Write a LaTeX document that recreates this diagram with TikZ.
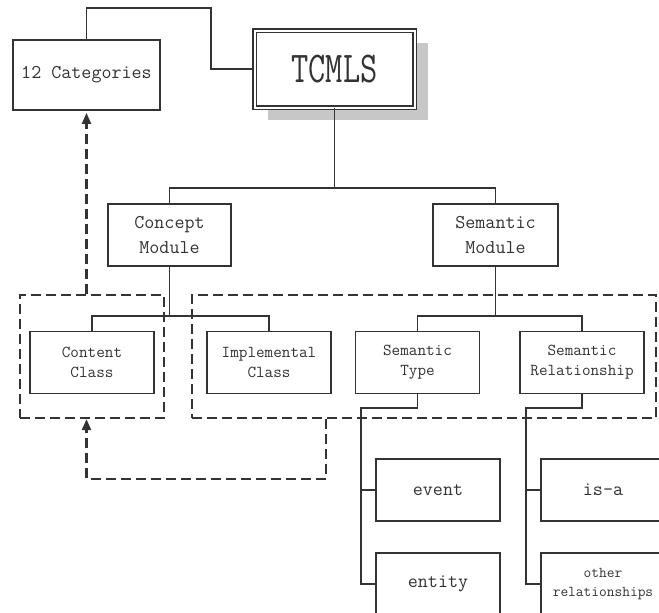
\documentclass[tikz,border=0pt]{standalone}
\usepackage{fontspec}
\usepackage{graphicx}
\usetikzlibrary{arrows.meta,shadows}
\definecolor{ink}{gray}{0.2}
\definecolor{shade}{gray}{0.78}
\begin{document}
\begin{tikzpicture}[x=1pt,y=-1pt,
  box/.style={draw=ink,line width=1.8pt,fill=white,rectangle,inner sep=0pt,
    minimum width=124pt,minimum height=62pt,align=center,text=ink},
  bigtxt/.style={font=\ttfamily\fontsize{19.5}{25}\selectfont},
  midtxt/.style={font=\ttfamily\fontsize{16.7}{20}\selectfont},
  smalltxt/.style={font=\ttfamily\fontsize{15}{19}\selectfont},
  grp/.style={draw=ink,line width=2.2pt,dash pattern=on 10pt off 5pt,rectangle,inner sep=0pt},
  link/.style={draw=ink,line width=1.8pt},
  dasharrow/.style={draw=ink,line width=2.2pt,dash pattern=on 10pt off 5pt,
    -{Triangle[length=11pt,width=9pt]}}
]
\useasboundingbox (0,0) rectangle (659,613);
\clip (0,0) rectangle (659,613);

% dashed groups
\node[grp,minimum width=144pt,minimum height=123pt] (lgrp) at (92,356.5) {};
\node[grp,minimum width=464pt,minimum height=123pt] (rgrp) at (424,356.5) {};

% boxes
\node[box,minimum width=147pt,minimum height=70pt,bigtxt] (cat) at (86.5,75) {12 Categories};
\node[box,double=white,double distance=2pt,line width=1.6pt,
  minimum width=160pt,minimum height=77pt,
  drop shadow={shadow xshift=13pt,shadow yshift=-12pt,fill=shade,opacity=1},
  font=\ttfamily\fontsize{44}{44}\selectfont] (tcmls) at (334.5,69) {\scalebox{0.76}[1]{TCMLS}};

\node[box,minimum width=123pt,bigtxt] (cm) at (169.5,235) {Concept\\Module};
\node[box,minimum width=125pt,bigtxt] (sm) at (495.5,235) {Semantic\\Module};

\node[box,midtxt] (cc) at (92,362.5) {Content\\Class};
\node[box,midtxt] (ic) at (269,362.5) {Implemental\\Class};
\node[box,midtxt] (st) at (417.5,362.5) {Semantic\\Type};
\node[box,midtxt] (sr) at (582,362.5) {Semantic\\Relationship};

\node[box,bigtxt] (event) at (438,490) {event};
\node[box,bigtxt] (entity) at (438,584) {entity};
\node[box,bigtxt] (isa) at (603,490) {is-a};
\node[box,smalltxt] (other) at (603,584) {other\\relationships};

% junction points
\coordinate (top) at (211,8);
\coordinate (bus1) at (334.5,188);
\coordinate (bus2) at (169.5,316);
\coordinate (bus3) at (495.5,316);
\coordinate (tv) at (361,408);
\coordinate (rv) at (526,408);
\coordinate (loop) at (326,479);

% solid connectors
\draw[link] (cat.north) |- (top) |- (tcmls.west);
\draw[link] (tcmls.south) -- (bus1);
\draw[link] (cm.north) |- (bus1) -| (sm.north);
\draw[link] (cm.south) -- (bus2);
\draw[link] (cc.north) |- (bus2) -| (ic.north);
\draw[link] (sm.south) -- (bus3);
\draw[link] (st.north) |- (bus3) -| (sr.north);
\draw[link] (st.south) |- (tv) |- (entity.west);
\draw[link] (tv |- event.west) -- (event.west);
\draw[link] (sr.south) |- (rv) |- (other.west);
\draw[link] (rv |- isa.west) -- (isa.west);

% dashed arrows
\draw[dasharrow] (lgrp.north -| cat.south) -- ([yshift=-2pt]cat.south);
\draw[dasharrow] (rgrp.south -| loop) -- (loop) -| (lgrp.south -| cat.south);
\end{tikzpicture}
\end{document}
